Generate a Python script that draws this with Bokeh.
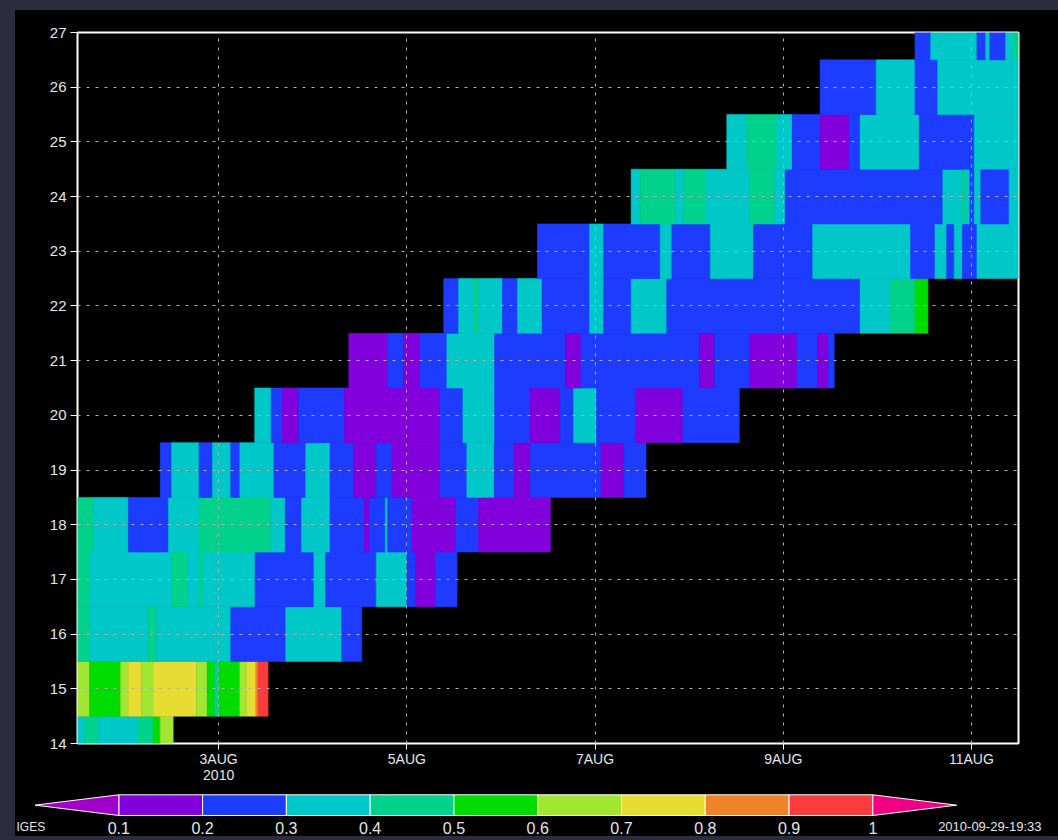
from bokeh.plotting import figure
from bokeh.models import Range1d, LinearColorMapper, FixedTicker, ColumnDataSource
from bokeh.transform import transform
from bokeh.layouts import column
from bokeh.embed import file_html
from bokeh.resources import INLINE
from bokeh.core.properties import value

# ---------------- data ----------------
# latitude rows (grid centres); time edges in hours since 2010-07-31 00Z
lats = list(range(14, 28))

row14_edges = [36.0, 37.9, 41.3, 51.3, 55.3, 57.1, 60.4]
row14_vals = [0.35, 0.45, 0.35, 0.45, 0.55, 0.65]
row15_edges = [36.0, 39.1, 47.0, 49.0, 52.3, 55.4, 66.3, 69.1, 71.0, 72.1, 77.4, 79.2, 81.5, 82.1, 84.6]
row15_vals = [0.65, 0.55, 0.65, 0.75, 0.65, 0.75, 0.65, 0.55, 0.45, 0.55, 0.65, 0.75, 0.85, 0.95]
row16_edges = [36.0, 39.1, 54.1, 56.2, 75.1, 89.1, 103.4, 108.5]
row16_vals = [0.45, 0.35, 0.45, 0.35, 0.25, 0.35, 0.25]
row17_edges = [36.0, 39.1, 60.0, 64.0, 67.0, 68.0, 81.3, 96.3, 99.3, 112.2, 120.0, 122.3, 127.3, 132.8]
row17_vals = [0.45, 0.35, 0.45, 0.35, 0.45, 0.35, 0.25, 0.35, 0.25, 0.35, 0.25, 0.15, 0.25]
row18_edges = [36.0, 40.1, 49.0, 59.2, 67.0, 85.3, 89.0, 93.1, 100.4, 109.2, 110.4, 114.5, 115.1, 121.3, 132.5, 138.3, 156.6]
row18_vals = [0.45, 0.35, 0.25, 0.35, 0.45, 0.35, 0.25, 0.35, 0.25, 0.15, 0.25, 0.35, 0.25, 0.15, 0.25, 0.15]
row19_edges = [57.1, 60.0, 67.0, 70.4, 75.1, 77.4, 86.1, 94.2, 100.4, 106.4, 112.2, 116.2, 128.4, 135.3, 142.3, 147.4, 151.5, 169.5, 175.4, 181.0]
row19_vals = [0.25, 0.35, 0.25, 0.35, 0.25, 0.35, 0.25, 0.35, 0.25, 0.15, 0.25, 0.15, 0.25, 0.35, 0.25, 0.15, 0.25, 0.15, 0.25]
row20_edges = [81.2, 85.4, 88.3, 92.4, 104.1, 128.4, 134.3, 142.4, 151.5, 159.1, 162.5, 168.4, 178.4, 190.4, 204.8]
row20_vals = [0.35, 0.25, 0.15, 0.25, 0.15, 0.25, 0.35, 0.25, 0.15, 0.25, 0.35, 0.25, 0.15, 0.25]
row21_edges = [105.2, 115.1, 119.2, 123.3, 130.2, 142.4, 160.4, 164.4, 194.6, 198.5, 207.4, 219.5, 224.7, 227.5, 229.0]
row21_vals = [0.15, 0.25, 0.15, 0.25, 0.35, 0.25, 0.15, 0.25, 0.15, 0.25, 0.15, 0.25, 0.15, 0.25]
row22_edges = [129.4, 133.2, 137.2, 138.3, 144.4, 148.2, 154.5, 166.6, 170.2, 177.2, 186.3, 235.6, 243.4, 249.6, 252.9]
row22_vals = [0.25, 0.35, 0.45, 0.35, 0.25, 0.35, 0.25, 0.35, 0.25, 0.35, 0.25, 0.35, 0.45, 0.55]
row23_edges = [153.3, 166.6, 170.2, 184.6, 187.6, 197.4, 208.4, 223.5, 248.5, 254.7, 257.7, 259.6, 261.7, 265.4, 276.0]
row23_vals = [0.25, 0.35, 0.25, 0.35, 0.25, 0.35, 0.25, 0.35, 0.25, 0.35, 0.25, 0.35, 0.25, 0.35]
row24_edges = [177.2, 179.5, 188.6, 190.6, 196.3, 207.4, 213.8, 216.5, 256.7, 261.8, 262.5, 263.6, 264.7, 266.4, 273.6, 276.0]
row24_vals = [0.35, 0.45, 0.35, 0.45, 0.35, 0.45, 0.35, 0.25, 0.35, 0.45, 0.35, 0.25, 0.35, 0.25, 0.35]
row25_edges = [201.6, 206.7, 214.4, 218.3, 225.4, 232.8, 235.6, 250.7, 264.7, 276.0]
row25_vals = [0.35, 0.45, 0.35, 0.25, 0.15, 0.25, 0.35, 0.25, 0.35]
row26_edges = [225.4, 239.7, 249.6, 255.4, 276.0]
row26_vals = [0.25, 0.35, 0.25, 0.35]
row27_edges = [249.6, 253.6, 265.4, 267.6, 268.7, 272.7, 274.7, 276.0]
row27_vals = [0.25, 0.35, 0.25, 0.35, 0.25, 0.35, 0.45]

# colour levels (GrADS rainbow)
levels = [0.1, 0.2, 0.3, 0.4, 0.5, 0.6, 0.7, 0.8, 0.9, 1.0]
level_labels = ["0.1", "0.2", "0.3", "0.4", "0.5", "0.6", "0.7", "0.8", "0.9", "1"]
palette = ["#a000c8", "#8200dc", "#1e3cff", "#00c8c8", "#00d28c", "#00dc00",
           "#a0e632", "#e6dc32", "#f08228", "#fa3c3c", "#f00082"]

x_ticks = [3, 5, 7, 9, 11]
x_tick_labels = ["3AUG\n2010", "5AUG", "7AUG", "9AUG", "11AUG"]

# ---------------- build cells ----------------
rows = [
    (14, row14_edges, row14_vals), (15, row15_edges, row15_vals),
    (16, row16_edges, row16_vals), (17, row17_edges, row17_vals),
    (18, row18_edges, row18_vals), (19, row19_edges, row19_vals),
    (20, row20_edges, row20_vals), (21, row21_edges, row21_vals),
    (22, row22_edges, row22_vals), (23, row23_edges, row23_vals),
    (24, row24_edges, row24_vals), (25, row25_edges, row25_vals),
    (26, row26_edges, row26_vals), (27, row27_edges, row27_vals),
]
L, R, B, T, V = [], [], [], [], []
for lat, edges, vals in rows:
    for i, v in enumerate(vals):
        L.append(edges[i] / 24.0)        # day of August
        R.append(edges[i + 1] / 24.0)
        B.append(lat - 0.5)
        T.append(lat + 0.5)
        V.append(v)
src = ColumnDataSource(dict(left=L, right=R, bottom=B, top=T, val=V))

mapper = LinearColorMapper(palette=palette, low=0.0, high=1.1)

FONT = "Liberation Sans"
LABEL_COLOR = "#e6e6e6"

# ---------------- main figure ----------------
p = figure(width=1043, height=780,
           x_range=Range1d(1.5, 11.5), y_range=Range1d(14, 27),
           output_backend="svg", toolbar_location=None,
           min_border_left=62, min_border_right=40,
           min_border_top=22, min_border_bottom=47,
           background_fill_color="black", border_fill_color="black")
p.frame_align = False

p.quad(left="left", right="right", bottom="bottom", top="top", source=src,
       fill_color=transform("val", mapper), line_color=transform("val", mapper),
       line_width=0.6)

p.outline_line_color = "white"
p.outline_line_width = 2

p.xaxis.ticker = FixedTicker(ticks=x_ticks)
p.xaxis.major_label_overrides = dict(zip(x_ticks, x_tick_labels))
p.yaxis.ticker = FixedTicker(ticks=lats)
for ax in (p.xaxis[0], p.yaxis[0]):
    ax.axis_line_color = None
    ax.major_tick_line_color = "white"
    ax.major_tick_in = 0
    ax.minor_tick_line_color = None
    ax.major_label_text_color = LABEL_COLOR
    ax.major_label_text_font = FONT
p.xaxis.major_tick_out = 6
p.xaxis.major_label_standoff = 1
p.xaxis.major_label_text_font_size = "14px"
p.xaxis.major_label_text_line_height = 1.05
p.yaxis.major_tick_out = 7
p.yaxis.major_label_standoff = 4
p.yaxis.major_label_text_font_size = "15px"

p.xgrid.ticker = FixedTicker(ticks=x_ticks)
p.ygrid.ticker = FixedTicker(ticks=lats[1:-1])
for g in (p.xgrid[0], p.ygrid[0]):
    g.grid_line_color = "#b0b0b0"
    g.grid_line_dash = "3 6"
    g.grid_line_width = 1
    g.level = "overlay"

# ---------------- colour bar ----------------
step = levels[1] - levels[0]
cb = figure(width=1043, height=46,
            x_range=Range1d(-0.0233, 1.2216), y_range=Range1d(-1.0145, 1.2077),
            output_backend="svg", toolbar_location=None,
            x_axis_type=None, y_axis_type=None, min_border=0,
            background_fill_color="black", border_fill_color="black")
cb.frame_align = False
cb.outline_line_color = None
cb.grid.visible = False

box_src = ColumnDataSource(dict(
    left=levels[:-1], right=levels[1:],
    val=[(a + b) / 2 for a, b in zip(levels[:-1], levels[1:])]))
cb.quad(left="left", right="right", bottom=0, top=1, source=box_src,
        fill_color=transform("val", mapper), line_color="white", line_width=1)

tri_src = ColumnDataSource(dict(
    xs=[[levels[0], levels[0] - step, levels[0]],
        [levels[-1], levels[-1] + step, levels[-1]]],
    ys=[[1, 0.5, 0], [1, 0.5, 0]],
    val=[levels[0] - step / 2, levels[-1] + step / 2]))
cb.patches(xs="xs", ys="ys", source=tri_src,
           fill_color=transform("val", mapper), line_color="white", line_width=1)

cb.text(x=levels, y=[-0.87] * len(levels), text=level_labels,
        text_align="center", text_baseline="bottom",
        text_font=value(FONT), text_font_size="16px", text_color=LABEL_COLOR)

cb.text(x=[-0.0221], y=[-0.90], text=["IGES"], text_align="left",
        text_baseline="bottom", text_font=value(FONT),
        text_font_size="12px", text_color=LABEL_COLOR)
cb.text(x=[1.2013], y=[-0.90], text=["2010-09-29-19:33"], text_align="right",
        text_baseline="bottom", text_font=value(FONT),
        text_font_size="13px", text_color=LABEL_COLOR)

layout = column(p, cb, spacing=0, margin=(10, 0, 0, 15),
                styles={"background-color": "black"})

html = file_html(layout, INLINE, title="Hovmoller")
html = html.replace("<head>", "<head><style>html,body{background:#2b2d3e;}</style>", 1)
open("out.html", "w").write(html)
